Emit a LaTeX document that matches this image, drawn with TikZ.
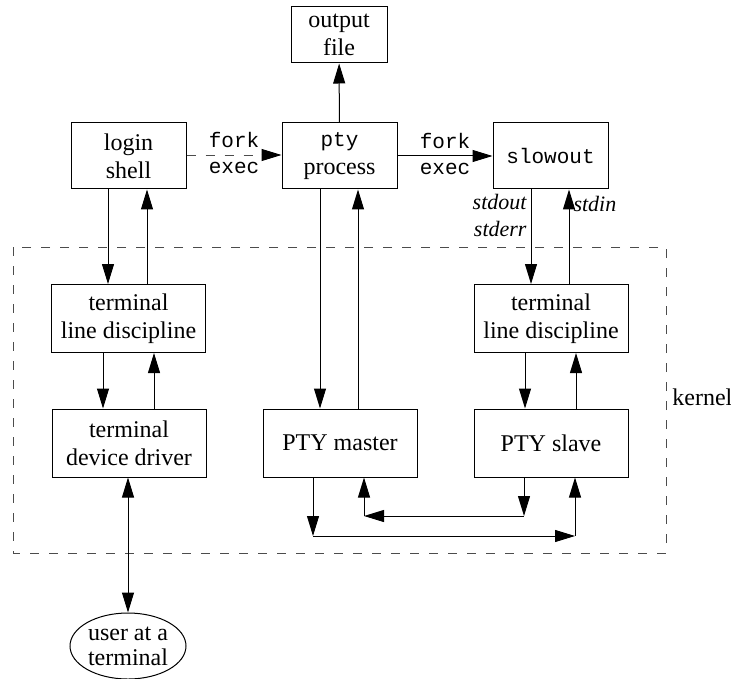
\documentclass[tikz,border=0pt]{standalone}
\usepackage{fontspec}
\setmainfont{Liberation Serif}
\setmonofont{Liberation Mono}
\usetikzlibrary{arrows.meta, shapes.geometric, calc}

\begin{document}
\begin{tikzpicture}[x=0.5pt, y=-0.5pt, font=\fontsize{12}{14}\selectfont,
  box/.style={draw, line width=0.5pt, align=center, inner sep=1pt},
  procbox/.style={box, minimum width=57.5pt, minimum height=33pt},
  kernbox/.style={box, minimum width=77pt, minimum height=34pt},
  arr/.style={line width=0.5pt, -{Triangle[length=10pt, width=6pt]}},
  dblarr/.style={line width=0.5pt, {Triangle[length=10pt, width=6pt]}-{Triangle[length=10pt, width=6pt]}},
  dashline/.style={black!70, line width=0.45pt, dash pattern=on 4.5pt off 5pt},
  code/.style={font=\ttfamily\fontsize{10.5}{12}\selectfont},
  fdlabel/.style={font=\itshape\fontsize{11}{13.5}\selectfont, align=right, inner sep=2pt}]
  \useasboundingbox (0,0) rectangle (731,678);

  % ---- kernel boundary ----
  \draw[dashline] (13,247) rectangle (666,553);
  \node[anchor=west, inner sep=0pt] (kernel) at (672,397) {kernel};

  % ---- user processes ----
  \node[box, minimum width=48pt, minimum height=28pt] (outfile) at (339,35) {output\\file};
  \node[procbox] (login) at (128.5,156) {login\\shell};
  \node[procbox] (ptyproc) at (339.5,156) {{\ttfamily\fontsize{10.5}{12}\selectfont pty}\\process};
  \node[procbox, code] (slowout) at (550.5,156) {slowout};

  % ---- kernel modules ----
  \node[kernbox] (ltld) at (128.5,318.5) {terminal\\line discipline};
  \node[kernbox] (ltdd) at (129,443) {terminal\\device driver};
  \node[kernbox] (master) at (340,443) {PTY master};
  \node[kernbox] (rtld) at (551,318.5) {terminal\\line discipline};
  \node[kernbox] (slave) at (551,443) {PTY slave};

  \node[ellipse, draw, line width=0.5pt, minimum width=58pt, minimum height=33pt,
        inner sep=0pt, align=center, font=\fontsize{12}{12.5}\selectfont] (user) at (128,646) {user at a\\terminal};

  % ---- fork / exec ----
  \draw[dashline] (login.east |- 0,155) -- (ptyproc.west |- 0,155)
    node[midway, above, code, black] {fork} node[midway, below, code, black] {exec};
  \draw[arr] ($(ptyproc.west |- 0,155)+(-20,0)$) -- (ptyproc.west |- 0,155);
  \draw[arr] (ptyproc.east |- 0,156) -- (slowout.west |- 0,156)
    node[midway, above, code] {fork} node[midway, below, code] {exec};
  \draw[arr] (ptyproc) -- (outfile);

  % ---- left side ----
  \draw[arr] (login.south -| 108,0) -- (ltld.north -| 108,0);
  \draw[arr] (ltld.north -| 147,0) -- (login.south -| 147,0);
  \draw[arr] (ltld.south -| 103,0) -- (ltdd.north -| 103,0);
  \draw[arr] (ltdd.north -| 154,0) -- (ltld.south -| 154,0);
  \draw[dblarr] (ltdd.south -| user.north) -- (user.north);

  % ---- pty process / master ----
  \draw[arr] (ptyproc.south -| 320,0) -- (master.north -| 320,0);
  \draw[arr] (master.north -| 358,0) -- (ptyproc.south -| 358,0);

  % ---- slowout / slave side ----
  \draw[arr] (slowout.south -| 531,0) -- (rtld.north -| 531,0)
    node[pos=0.28, left, fdlabel] {stdout\\stderr};
  \draw[arr] (rtld.north -| 569,0) -- (slowout.south -| 569,0)
    node[pos=0.85, right, fdlabel] {stdin};
  \draw[arr] (rtld.south -| 525,0) -- (slave.north -| 525,0);
  \draw[arr] (slave.north -| 576,0) -- (rtld.south -| 576,0);

  % ---- master <-> slave ----
  \coordinate (m1) at (313,536);
  \coordinate (s1) at (575,536);
  \coordinate (s2) at (524,516);
  \coordinate (m2) at (364,516);
  \draw[arr] (master.south -| m1) -- (m1);
  \draw[arr] (m1) -- (s1);
  \draw[arr] (s1) -- (slave.south -| s1);
  \draw[arr] (slave.south -| s2) -- (s2);
  \draw[arr] (s2) -- (m2);
  \draw[arr] (m2) -- (master.south -| m2);
\end{tikzpicture}
\end{document}
